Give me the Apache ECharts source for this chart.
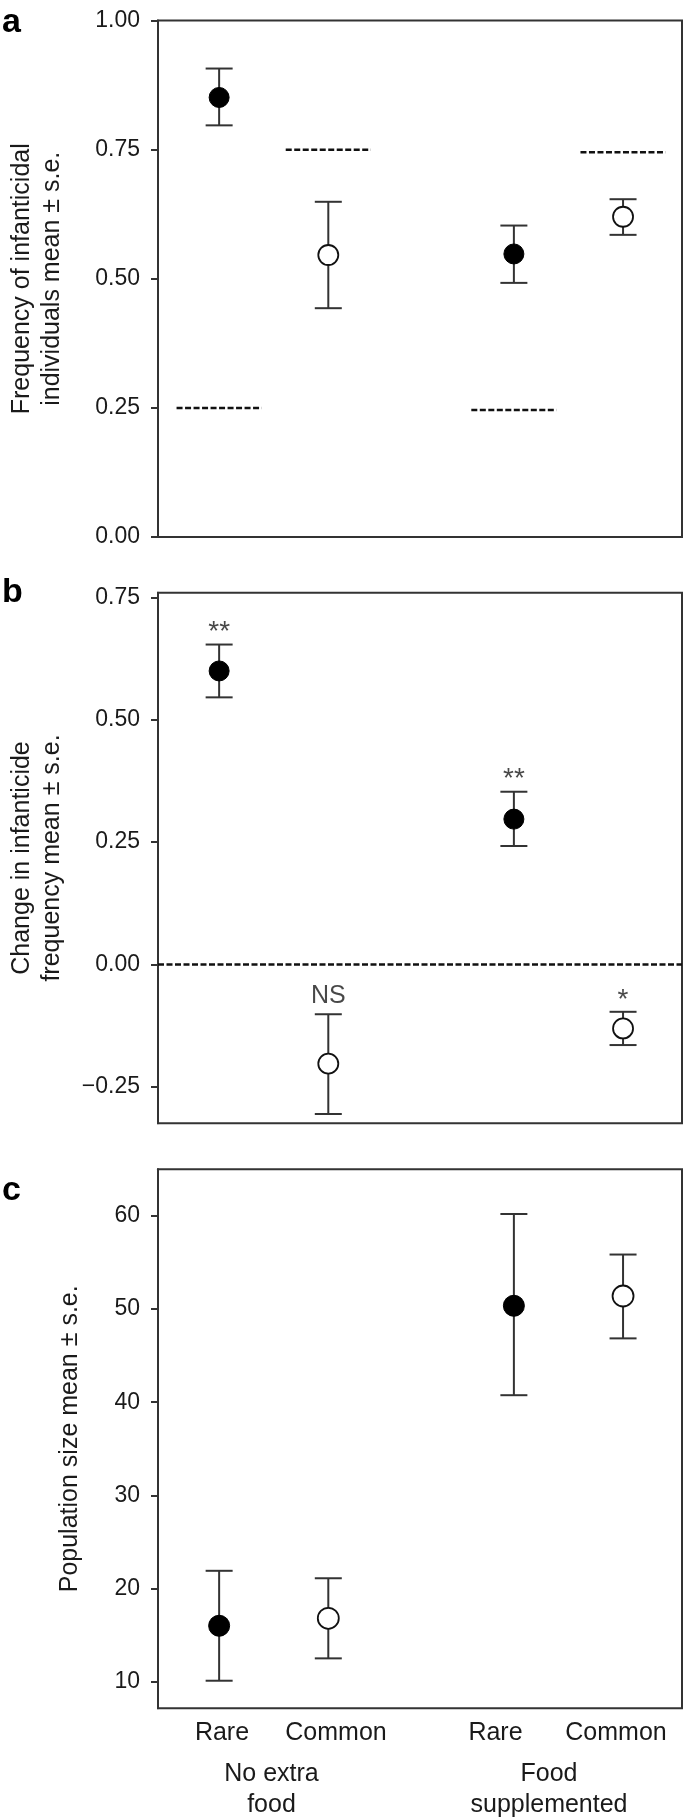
<!DOCTYPE html>
<html>
<head>
<meta charset="utf-8">
<script src="https://cdn.jsdelivr.net/npm/echarts@6/dist/echarts.min.js"></script>
<style>
html,body{margin:0;padding:0;background:#fff;}
#chart{width:685px;height:1820px;}
</style>
</head>
<body>
<div id="chart"></div>
<script>
// ---- data ----
const categories = ['Rare', 'Common', 'Rare', 'Common'];
const groups = ['No extra\nfood', 'Food\nsupplemented'];
const xPos = [1, 2, 3.7, 4.7];          // category positions on the shared x scale
const filled = [true, false, true, false];

// panel a: frequency of infanticidal individuals
const freqMean = [0.851, 0.546, 0.548, 0.620];
const freqLow  = [0.797, 0.443, 0.492, 0.585];
const freqHigh = [0.907, 0.649, 0.603, 0.654];
const freqExpected = [0.250, 0.750, 0.246, 0.745];
const freqTicks = [0, 0.25, 0.5, 0.75, 1];

// panel b: change in infanticide frequency
const changeMean = [0.600, -0.203, 0.297, -0.131];
const changeLow  = [0.546, -0.306, 0.242, -0.165];
const changeHigh = [0.654, -0.102, 0.353, -0.097];
const changeSig  = ['**', 'NS', '**', '*'];
const changeTicks = [-0.25, 0, 0.25, 0.5, 0.75];

// panel c: population size
const popMean = [16.0, 16.8, 50.35, 51.4];
const popLow  = [10.1, 12.5, 40.75, 46.85];
const popHigh = [21.9, 21.1, 60.2, 55.85];
const popTicks = [10, 20, 30, 40, 50, 60];

// ---- chart ----
const FONT = 'Liberation Sans, Arial, Helvetica, sans-serif';
const INK = '#1a1a1a';
const LINE = '#333';
const chart = echarts.init(document.getElementById('chart'), null, {renderer: 'canvas'});

const grids = [
  {left: 158, right: 3, top: 20.5, height: 516.5},
  {left: 158, right: 3, top: 592.7, height: 530.6},
  {left: 158, right: 3, top: 1169.3, height: 539}
];

const fmt2 = v => (v < 0 ? '\u2212' + Math.abs(v).toFixed(2) : v.toFixed(2));

function yAxisDef(i, min, max, ticks, formatter, name, nameGap) {
  return {
    gridIndex: i, type: 'value', min: min, max: max,
    axisLine: {show: true, lineStyle: {color: LINE, width: 2}},
    axisTick: {show: true, length: 7, lineStyle: {color: LINE, width: 2}, customValues: ticks},
    axisLabel: {customValues: ticks, formatter: formatter, fontSize: 23, color: INK, fontFamily: FONT, margin: 18},
    splitLine: {show: false},
    name: name, nameLocation: 'middle', nameGap: nameGap, nameRotate: 90,
    nameTextStyle: {fontSize: 25, lineHeight: 30, color: INK, fontFamily: FONT, align: 'center'}
  };
}

function errorSeries(i, low, high) {
  return {
    type: 'custom', xAxisIndex: i, yAxisIndex: i, z: 2, silent: true,
    data: xPos.map((x, k) => [x, low[k], high[k]]),
    encode: {x: 0, y: [1, 2]},
    renderItem: function (params, api) {
      const x = api.value(0);
      const pLo = api.coord([x, api.value(1)]);
      const pHi = api.coord([x, api.value(2)]);
      const hw = 13.5;
      const st = {stroke: LINE, lineWidth: 2};
      return {type: 'group', children: [
        {type: 'line', shape: {x1: pLo[0], y1: pLo[1], x2: pHi[0], y2: pHi[1]}, style: st},
        {type: 'line', shape: {x1: pLo[0] - hw, y1: pLo[1], x2: pLo[0] + hw, y2: pLo[1]}, style: st},
        {type: 'line', shape: {x1: pHi[0] - hw, y1: pHi[1], x2: pHi[0] + hw, y2: pHi[1]}, style: st}
      ]};
    }
  };
}

function pointSeries(i, mean, size) {
  return [true, false].map(isFilled => ({
    type: 'scatter', xAxisIndex: i, yAxisIndex: i, z: 5, silent: true,
    symbol: 'circle', symbolSize: size,
    itemStyle: isFilled ? {color: '#000', borderColor: '#000', borderWidth: 1, opacity: 1}
                        : {color: '#fff', borderColor: '#111', borderWidth: 1.8, opacity: 1},
    data: xPos.map((x, k) => [x, mean[k]]).filter((d, k) => filled[k] === isFilled)
  }));
}

const series = [];
// panel a
series.push({
  type: 'custom', xAxisIndex: 0, yAxisIndex: 0, z: 1, silent: true,
  data: xPos.map((x, k) => [x, freqExpected[k]]),
  encode: {x: 0, y: 1},
  renderItem: function (params, api) {
    const x = api.value(0), y = api.value(1);
    const p1 = api.coord([x - 0.39, y]);
    const p2 = api.coord([x + 0.39, y]);
    return {type: 'line', shape: {x1: p1[0], y1: p1[1], x2: p2[0], y2: p2[1]},
            style: {stroke: '#111', lineWidth: 2.5, lineDash: [6, 2.5]}};
  }
});
series.push(errorSeries(0, freqLow, freqHigh));
series.push(...pointSeries(0, freqMean, 20));

// panel b
series.push({
  type: 'line', xAxisIndex: 1, yAxisIndex: 1, data: [], silent: true,
  markLine: {symbol: 'none', silent: true, label: {show: false},
    lineStyle: {color: '#111', width: 2.5, type: [6, 2.5]},
    data: [{yAxis: 0}]}
});
series.push(errorSeries(1, changeLow, changeHigh));
series.push(...pointSeries(1, changeMean, 20));
series.push({
  type: 'scatter', xAxisIndex: 1, yAxisIndex: 1, z: 6, silent: true, symbolSize: 0,
  data: xPos.map((x, k) => {
    const star = changeSig[k].indexOf('*') >= 0;
    return {
      value: [x, changeHigh[k]],
      label: {show: true, position: 'top', distance: star ? -2 : 6,
        formatter: changeSig[k], fontSize: star ? 28 : 25, color: INK, fontFamily: FONT}
    };
  })
});

// panel c
series.push(errorSeries(2, popLow, popHigh));
series.push(...pointSeries(2, popMean, 21));

// text graphics: panel letters and x category labels
const graphic = [
  {type: 'text', left: 2, top: 6, style: {text: 'a', font: 'bold 34px ' + FONT, fill: '#000'}},
  {type: 'text', left: 2, top: 576, style: {text: 'b', font: 'bold 34px ' + FONT, fill: '#000'}},
  {type: 'text', left: 2, top: 1174, style: {text: 'c', font: 'bold 34px ' + FONT, fill: '#000'}}
];
const catLabelX = [222, 336, 495.5, 616];
categories.forEach((c, k) => graphic.push({
  type: 'text', x: catLabelX[k], y: 1733,
  style: {text: c, font: '25px ' + FONT, fill: INK, align: 'center', verticalAlign: 'middle'}
}));
const groupLabelX = [271.5, 549];
groups.forEach((g, k) => graphic.push({
  type: 'text', x: groupLabelX[k], y: 1790,
  style: {text: g, font: '25px ' + FONT, fill: INK, align: 'center', verticalAlign: 'middle', lineHeight: 31}
}));

chart.setOption({
  animation: false,
  backgroundColor: '#fff',
  grid: grids.map(g => Object.assign({show: true, borderColor: LINE, borderWidth: 2, backgroundColor: 'transparent',
    containLabel: false, outerBoundsMode: 'none'}, g)),
  xAxis: [0, 1, 2].map(i => ({gridIndex: i, type: 'value', min: 0.44, max: 5.24, show: false})),
  yAxis: [
    yAxisDef(0, 0, 1, freqTicks, fmt2, 'Frequency of infanticidal\nindividuals mean \u00b1 s.e.', 91),
    yAxisDef(1, -0.325, 0.76, changeTicks, fmt2, 'Change in infanticide\nfrequency mean \u00b1 s.e.', 91),
    yAxisDef(2, 7.14, 65, popTicks, v => String(v), 'Population size mean \u00b1 s.e.', 73)
  ],
  series: series,
  graphic: graphic
});
</script>
</body>
</html>
